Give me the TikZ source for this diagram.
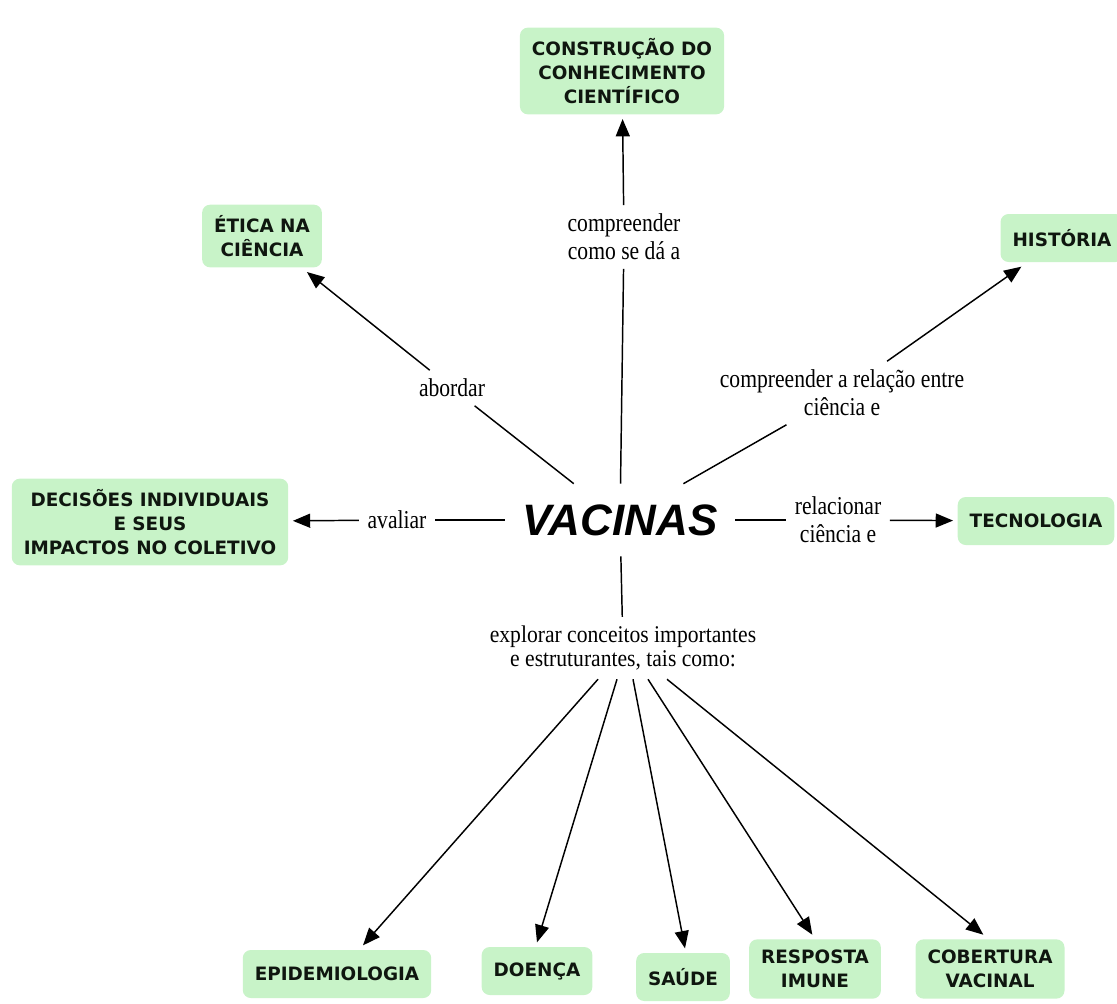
\documentclass[tikz,border=0pt]{standalone}
\usepackage{fontspec}
\setmainfont{Liberation Serif}
\newfontfamily\boxfont{DejaVu Sans}
\newfontfamily\lblfont[FakeStretch=0.84]{Liberation Serif}
\newfontfamily\lblwidefont[FakeStretch=0.9]{Liberation Serif}
\newfontfamily\hubfont{Liberation Sans}
\usetikzlibrary{arrows.meta}
\definecolor{boxgreen}{RGB}{200,243,200}
\definecolor{boxtext}{RGB}{15,22,15}
\tikzset{
  concept/.style={shape=rectangle,rounded corners=6pt,fill=boxgreen,text=boxtext,
    font=\boxfont\bfseries\fontsize{13.8pt}{18pt}\selectfont,align=center,
    inner xsep=9pt,inner ysep=8pt,minimum height=36pt,outer sep=3.5pt},
  link/.style={font=\lblfont\fontsize{19.3pt}{21pt}\selectfont,align=center,inner sep=6pt},
}

\begin{document}
\begin{tikzpicture}[->,>={Triangle[length=13pt,width=10.5pt]},line width=1.1pt,x=0.75pt,y=-0.75pt]
                \useasboundingbox (0,0) rectangle (1117,1003);
                \node[font=\hubfont\bfseries\itshape\fontsize{33pt}{36pt}\selectfont,inner xsep=13pt,inner ysep=15pt](vac)at(620, 520){VACINAS};

                \node[concept](constr)at(622, 71){CONSTRUÇÃO DO\\CONHECIMENTO\\CIENTÍFICO};
                \node[concept](etica)at(262, 236){ÉTICA NA\\CIÊNCIA};
                \node[concept](hist)at(1062, 238){HISTÓRIA};
                \node[concept](decis)at(150, 522){DECISÕES INDIVIDUAIS\\E SEUS\\IMPACTOS NO COLETIVO};
                \node[concept](tecno)at(1036, 521){TECNOLOGIA};
                \node[concept](epid)at(337, 974){EPIDEMIOLOGIA};
                \node[concept](doenca)at(537, 971){DOENÇA};
                \node[concept](saude)at(683, 977){SAÚDE};
                \node[concept](resp)at(815, 969){RESPOSTA\\IMUNE};
                \node[concept](cob)at(990, 969){COBERTURA\\VACINAL};

                \node[link](lblsci)at(624, 237){compreender\\como se dá a};
                \node[link](lblabord)at(452, 388){abordar};
                \node[link](lblrel)at(842, 393){compreender a relação entre\\ciência e};
                \node[link](lblaval)at(397, 520){avaliar};
                \node[link](lblrelac)at(838, 520){relacionar\\ciência e};
                \node[link,font=\lblwidefont\fontsize{18pt}{18.5pt}\selectfont](lblexpl)at(623, 648){explorar conceitos importantes\\e estruturantes, tais como:};

                \path[](vac) edge[-] (lblsci)
                (lblsci) edge (constr)
                (vac) edge[-] (lblabord)
                (lblabord) edge (etica)
                (vac) edge[-] (lblrel)
                (lblrel) edge (hist)
                (vac) edge[-] (lblaval)
                (lblaval) edge (decis)
                (vac) edge[-] (lblrelac)
                (lblrelac) edge (tecno)
                (vac) edge[-] (lblexpl);
                \path[]([xshift=-18.75pt]lblexpl.south) edge ([xshift=19.5pt]epid.north)
                ([xshift=-4.5pt]lblexpl.south) edge (doenca.north)
                ([xshift=7.5pt]lblexpl.south) edge ([xshift=1.5pt]saude.north)
                ([xshift=18.75pt]lblexpl.south) edge ([xshift=-2pt]resp.north)
                ([xshift=33pt]lblexpl.south) edge ([xshift=-5pt]cob.north);
            \end{tikzpicture}
\end{document}
